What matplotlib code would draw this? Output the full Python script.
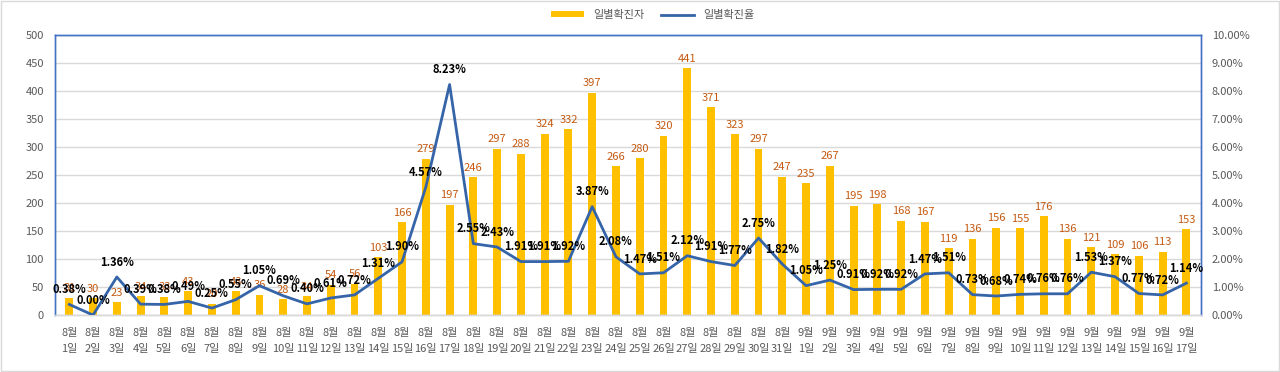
import matplotlib
matplotlib.use("Agg")
import matplotlib.pyplot as plt
from matplotlib.ticker import FuncFormatter, MultipleLocator

plt.rcParams['font.family'] = ['Noto Sans CJK KR', 'DejaVu Sans']

months = [8] * 31 + [9] * 17
days = list(range(1, 32)) + list(range(1, 18))
cases = [31, 30, 23, 34, 33, 43, 20, 43, 36, 28, 34, 54, 56, 103, 166, 279,
         197, 246, 297, 288, 324, 332, 397, 266, 280, 320, 441, 371, 323, 297, 247,
         235, 267, 195, 198, 168, 167, 119, 136, 156, 155, 176, 136, 121, 109, 106, 113, 153]
rates = [0.38, 0.00, 1.36, 0.39, 0.38, 0.49, 0.25, 0.55, 1.05, 0.69, 0.40, 0.61, 0.72,
         1.31, 1.90, 4.57, 8.23, 2.55, 2.43, 1.91, 1.91, 1.92, 3.87, 2.08, 1.47, 1.51,
         2.12, 1.91, 1.77, 2.75, 1.82, 1.05, 1.25, 0.91, 0.92, 0.92, 1.47, 1.51, 0.73,
         0.68, 0.74, 0.76, 0.76, 1.53, 1.37, 0.77, 0.72, 1.14]
labels = [f"{m}월\n{d}일" for m, d in zip(months, days)]

bar_color = "#FFC000"
line_color = "#3564A8"
blue_axis = "#4472C4"

fig = plt.figure(figsize=(12.8, 3.72), dpi=100)
ax = fig.add_axes([0.043, 0.153, 0.895, 0.753])
x = list(range(len(cases)))

ax.bar(x, cases, width=0.33, color=bar_color, zorder=2, label="일별확진자")
ax.set_ylim(0, 500)
ax.set_xlim(-0.6, len(cases) - 0.4)
ax.yaxis.set_major_locator(MultipleLocator(50))
ax.grid(axis="y", color="#D9D9D9", linewidth=1, zorder=0)
ax.set_axisbelow(True)
ax.set_xticks(x)
ax.set_xticklabels(labels, fontsize=8, color="#595959", linespacing=1.8)
ax.tick_params(axis="x", length=0, pad=9)
ax.tick_params(axis="y", length=0, labelsize=8, labelcolor="#595959", pad=8)

for xi, v in zip(x, cases):
    ax.text(xi, v + 8, str(v), ha="center", va="bottom", fontsize=8, color="#C55A11", zorder=4)

ax2 = ax.twinx()
ax2.plot(x, rates, color=line_color, linewidth=2, zorder=3, label="일별확진율")
ax2.set_ylim(0, 10)
ax2.yaxis.set_major_locator(MultipleLocator(1))
ax2.yaxis.set_major_formatter(FuncFormatter(lambda v, p: f"{v:.2f}%"))
ax2.tick_params(axis="y", length=0, labelsize=8, labelcolor="#595959", pad=8)

for xi, r in zip(x, rates):
    ax2.text(xi, r + 0.3, f"{r:.2f}%", ha="center", va="bottom", fontsize=8,
             fontweight="bold", color="black", zorder=5)

for a in (ax, ax2):
    a.spines["left"].set_color(blue_axis)
    a.spines["right"].set_color(blue_axis)
    a.spines["top"].set_color(blue_axis)
    a.spines["bottom"].set_color("#D9D9D9")
    for s in a.spines.values():
        s.set_linewidth(1)

h1, l1 = ax.get_legend_handles_labels()
h2, l2 = ax2.get_legend_handles_labels()
fig.legend(h1 + h2, l1 + l2, loc="upper center", bbox_to_anchor=(0.51, 1.0), ncol=2,
           frameon=False, fontsize=8, labelcolor="#595959", handlelength=3,
           handleheight=0.5, columnspacing=1.5)

fig.patches.append(plt.Rectangle((0.001, 0.002), 0.998, 0.995, transform=fig.transFigure,
                                 fill=False, edgecolor="#D9D9D9", linewidth=1))

fig.savefig("out.png", dpi=100)
